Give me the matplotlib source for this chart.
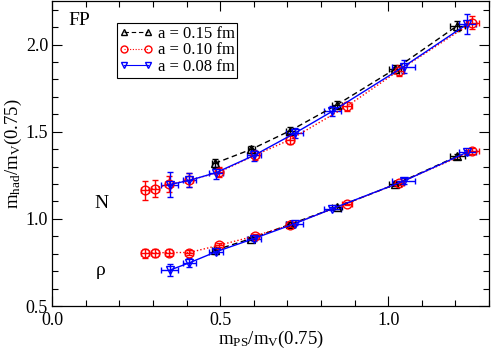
import numpy as np
import matplotlib
matplotlib.use("Agg")
import matplotlib.pyplot as plt
from matplotlib.lines import Line2D

plt.rcParams["font.family"] = ["Liberation Serif", "DejaVu Serif"]
plt.rcParams["mathtext.fontset"] = "custom"
plt.rcParams["mathtext.rm"] = "Liberation Serif"
plt.rcParams["mathtext.it"] = "Liberation Serif:italic"

# ---------------------------------------------------------------------------
# Donnees : m_PS/m_V en abscisse, m_had/m_V pour N et rho
# ---------------------------------------------------------------------------

# a = 0.15 fm
x15 = [0.484, 0.592, 0.709, 0.848, 1.021, 1.205]
x15_err = [0.008, 0.010, 0.012, 0.015, 0.018, 0.022]
n15 = [1.319, 1.399, 1.507, 1.656, 1.861, 2.108]
n15_err = [0.025, 0.022, 0.022, 0.022, 0.025, 0.030]
rho15 = [0.820, 0.887, 0.970, 1.068, 1.198, 1.359]
rho15_err = [0.012, 0.010, 0.010, 0.010, 0.012, 0.015]

# a = 0.10 fm
x10 = [0.276, 0.305, 0.348, 0.408, 0.497, 0.602, 0.707, 0.876, 1.031, 1.250]
x10_err = [0.012, 0.012, 0.012, 0.012, 0.012, 0.012, 0.012, 0.015, 0.015, 0.020]
n10 = [1.164, 1.174, 1.200, 1.221, 1.269, 1.364, 1.454, 1.645, 1.851, 2.127]
n10_err = [0.055, 0.050, 0.045, 0.040, 0.030, 0.025, 0.025, 0.025, 0.030, 0.035]
rho10 = [0.802, 0.805, 0.807, 0.807, 0.849, 0.901, 0.964, 1.088, 1.206, 1.389]
rho10_err = [0.025, 0.022, 0.018, 0.015, 0.012, 0.010, 0.010, 0.010, 0.012, 0.015]

# a = 0.08 fm
x08 = [0.350, 0.408, 0.487, 0.600, 0.722, 0.834, 1.046, 1.235]
x08_err = [0.025, 0.020, 0.020, 0.020, 0.025, 0.025, 0.035, 0.025]
n08 = [1.197, 1.221, 1.265, 1.364, 1.492, 1.618, 1.874, 2.118]
n08_err = [0.070, 0.040, 0.035, 0.030, 0.030, 0.030, 0.035, 0.055]
rho08 = [0.706, 0.748, 0.811, 0.887, 0.973, 1.059, 1.217, 1.383]
rho08_err = [0.035, 0.025, 0.015, 0.012, 0.010, 0.010, 0.015, 0.015]

labels = ["a = 0.15 fm", "a = 0.10 fm", "a = 0.08 fm"]

# ---------------------------------------------------------------------------

fig = plt.figure(figsize=(4.91, 3.59), dpi=100)
ax = fig.add_axes([0.1065, 0.1476, 0.8895, 0.8494])

series = [
    (x15, x15_err, n15, n15_err, rho15, rho15_err, "black", "^", (0, (4, 2.5))),
    (x10, x10_err, n10, n10_err, rho10, rho10_err, "red", "o", (0, (1, 1.5))),
    (x08, x08_err, n08, n08_err, rho08, rho08_err, "blue", "v", "-"),
]

handles = []
for x, xe, n, ne, r, re, col, mk, ls in series:
    for y, ye in [(n, ne), (r, re)]:
        ax.errorbar(x, y, yerr=ye, xerr=xe, color=col, marker=mk, ms=6.3,
                    mfc="none", mec=col, mew=1.0, lw=1.0, ls=ls,
                    elinewidth=1.0, capsize=2.2, capthick=1.0)
    handles.append(Line2D([], [], color=col, marker=mk, ms=5, mfc="none",
                          mec=col, mew=1.0, lw=0.8, ls=ls))

ax.set_xlim(0.0, 1.3)
ax.set_ylim(0.5, 2.25)
ax.set_xticks([0.0, 0.5, 1.0])
ax.set_yticks([0.5, 1.0, 1.5, 2.0])
ax.set_xticks(np.arange(0.0, 1.31, 0.1), minor=True)
ax.set_yticks(np.arange(0.5, 2.26, 0.1), minor=True)
ax.xaxis.set_major_formatter(plt.FormatStrFormatter("%.1f"))
ax.yaxis.set_major_formatter(plt.FormatStrFormatter("%.1f"))
ax.tick_params(which="both", direction="in", top=True, right=True,
               labelsize=13, width=0.8, pad=3)
ax.tick_params(axis="x", which="major", pad=4.5)
ax.tick_params(which="major", length=7)
ax.tick_params(which="minor", length=4)
for s in ax.spines.values():
    s.set_linewidth(0.9)

ax.set_xlabel(r"m$_{\rm PS}$/m$_{\rm V}$(0.75)", fontsize=13.5, labelpad=0)
ax.set_ylabel(r"m$_{\rm had}$/m$_{\rm V}$(0.75)", fontsize=13.5, labelpad=1)

ax.text(0.037, 0.935, "FP", transform=ax.transAxes, fontsize=14, va="center")
ax.text(0.145, 1.09, "N", fontsize=14, ha="center", va="center")
ax.text(0.145, 0.706, "ρ", fontsize=14, ha="center", va="center")

ax.legend(handles, labels, loc="upper left", bbox_to_anchor=(0.148, 0.928),
          fontsize=12, frameon=True, fancybox=False, edgecolor="black",
          framealpha=1, handlelength=2.0, handletextpad=0.3, borderpad=0.15,
          labelspacing=0.05, borderaxespad=0.0, numpoints=2)
ax.get_legend().get_frame().set_linewidth(0.8)

fig.savefig("out.png", dpi=100)
